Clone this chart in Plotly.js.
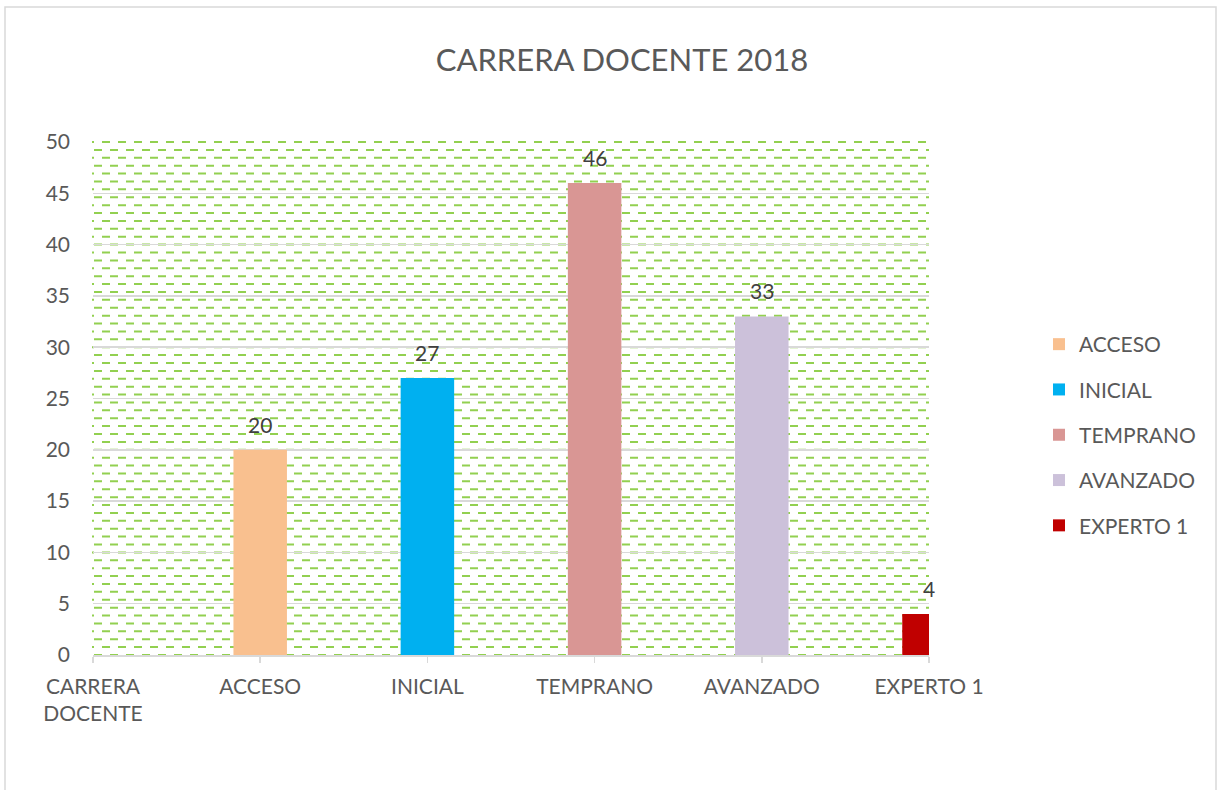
<!DOCTYPE html>
<html>
<head>
<meta charset="utf-8">
<script src="https://cdn.plot.ly/plotly-3.0.1.min.js"></script>
<style>html,body{margin:0;padding:0;background:#fff;}#chart{width:1217px;height:790px;}</style>
</head>
<body>
<div id="chart"></div>
<script>
// ---- data ----
var seriesNames = ['ACCESO', 'INICIAL', 'TEMPRANO', 'AVANZADO', 'EXPERTO 1'];
var seriesValues = [20, 27, 46, 33, 4];
var seriesPositions = [1, 2, 3, 4, 5];
var tickPositions = [0, 1, 2, 3, 4, 5];
var tickLabels = ['CARRERA<br>DOCENTE', 'ACCESO', 'INICIAL', 'TEMPRANO', 'AVANZADO', 'EXPERTO 1'];
var chartTitle = 'CARRERA DOCENTE 2018';

// ---- style ----
var colors = ['#F9C08F', '#00B0F0', '#D99694', '#CCC1DA', '#C00000'];
var FONT = 'Lato, "Liberation Sans", sans-serif';
var textColor = '#595959';

var traces = seriesNames.map(function (name, i) {
  return {
    type: 'bar',
    name: name,
    legendgroup: 'g' + i,
    x: [seriesPositions[i]],
    y: [seriesValues[i]],
    width: 0.32,
    marker: { color: colors[i], line: { width: 0 } },
    hoverinfo: 'skip'
  };
});

// data labels above bars
var annotations = seriesNames.map(function (name, i) {
  return {
    x: seriesPositions[i], y: seriesValues[i], xref: 'x', yref: 'y',
    text: String(seriesValues[i]), showarrow: false,
    xanchor: 'center', yanchor: 'bottom', yshift: 11,
    font: { family: FONT, size: 21, color: '#404040' }
  };
});

// decorative dashed green background pattern (plot area)
var L = 93, R = 929, T = 142, B = 655;
var W = R - L;
var shapes = [];
var nRows = 65;
for (var k = 0; k <= nRows; k++) {
  shapes.push({
    type: 'line', xref: 'paper', yref: 'paper', layer: 'below',
    x0: -1 / W, x1: 1, y0: 1 - k / nRows, y1: 1 - k / nRows,
    line: { color: '#92D050', width: 2, dash: (k % 2 === 0) ? '2px,8px,6px,0px' : '0px,2px,8px,6px' }
  });
}
// outer chart border
var H = B - T;
shapes.push({
  type: 'rect', xref: 'paper', yref: 'paper', layer: 'below',
  x0: (5 - L) / W, x1: (1216 - L) / W, y0: (B - 795) / H, y1: (B - 7) / H,
  line: { color: '#D9D9D9', width: 1.5 }, fillcolor: 'rgba(0,0,0,0)'
});

var layout = {
  width: 1217, height: 790,
  margin: { l: L, r: 1217 - R, t: T, b: 790 - B, pad: 0 },
  paper_bgcolor: '#FFFFFF',
  plot_bgcolor: 'rgba(0,0,0,0)',
  barmode: 'overlay',
  title: {
    text: chartTitle,
    font: { family: FONT, size: 31, color: textColor },
    x: 622 / 1217, xanchor: 'center', xref: 'container',
    y: 1 - 60 / 790, yanchor: 'middle', yref: 'container'
  },
  xaxis: {
    range: [0, 5],
    tickmode: 'array', tickvals: tickPositions, ticktext: tickLabels,
    showgrid: false, zeroline: false,
    showline: true, linecolor: '#D9D9D9', linewidth: 1.5,
    ticks: 'outside', ticklen: 6, tickcolor: '#D9D9D9', tickwidth: 1.5,
    ticklabelstandoff: 6,
    tickfont: { family: FONT, size: 21, color: textColor },
    fixedrange: true
  },
  yaxis: {
    range: [0, 50], dtick: 5, tick0: 0,
    showgrid: true, gridcolor: '#D9D9D9', gridwidth: 1.5,
    zeroline: false, showline: false, ticks: '',
    ticklabelstandoff: 22,
    tickfont: { family: FONT, size: 21, color: textColor },
    fixedrange: true
  },
  showlegend: true,
  legend: {
    x: (1039 - L) / W, xanchor: 'left',
    y: (B - 435) / H, yanchor: 'middle',
    font: { family: FONT, size: 21, color: textColor },
    tracegroupgap: 15,
    bgcolor: 'rgba(0,0,0,0)',
    traceorder: 'grouped'
  },
  annotations: annotations,
  shapes: shapes
};

Plotly.newPlot('chart', traces, layout, { displayModeBar: false, staticPlot: true });
</script>
</body>
</html>
